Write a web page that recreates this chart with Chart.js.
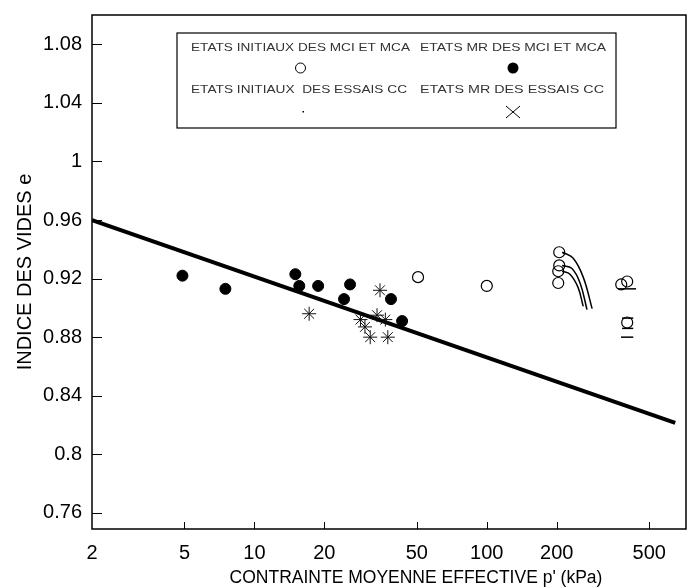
<!DOCTYPE html>
<html>
<head>
<meta charset="utf-8">
<script src="https://cdn.jsdelivr.net/npm/chart.js@4.4.1/dist/chart.umd.min.js"></script>
<style>
html, body { margin: 0; padding: 0; background: #fff; }
#wrap { width: 689px; height: 588px; }
</style>
</head>
<body>
<div id="wrap"><canvas id="chart" width="689" height="588"></canvas></div>
<script>
// etats MR des MCI et MCA (points pleins)
const mrMciX = [4.9, 7.5, 15.0, 15.6, 18.8, 24.3, 25.8, 38.7, 43.2];
const mrMciY = [0.922, 0.913, 0.923, 0.915, 0.915, 0.906, 0.916, 0.906, 0.891];

// etats initiaux des MCI et MCA (cercles vides)
const initMciX = [50.6, 100, 205, 205, 203, 203, 379, 402, 402];
const initMciY = [0.921, 0.915, 0.938, 0.929, 0.925, 0.917, 0.916, 0.918, 0.890];

// etats MR des essais CC (croix)
const mrCcX = [17.2, 34.7, 33.7, 29.9, 28.6, 36.6, 31.5, 37.5];
const mrCcY = [0.896, 0.912, 0.895, 0.887, 0.892, 0.892, 0.880, 0.880];

// droite d'etat critique
const lineX = [2, 647];
const lineY = [0.96, 0.8215];

// chemins partant des etats a 200 kPa
const path1X = [211, 235, 260, 284];
const path1Y = [0.938, 0.934, 0.921, 0.8995];
const path2X = [211, 232, 252, 270];
const path2Y = [0.929, 0.927, 0.917, 0.8988];
const path3X = [211, 228, 247, 260];
const path3Y = [0.925, 0.923, 0.914, 0.901];

// petits traits horizontaux vers 400 kPa
const barFrom = [367, 382, 382, 378];
const barTo = [439, 427, 427, 427];
const barY = [0.913, 0.893, 0.886, 0.880];

const xTicks = [2, 5, 10, 20, 50, 100, 200, 500];
const yTicks = [0.76, 0.8, 0.84, 0.88, 0.92, 0.96, 1, 1.04, 1.08];

const legendTexts = [
    'ETATS INITIAUX DES MCI ET MCA', 'ETATS MR DES MCI ET MCA',
    'ETATS INITIAUX  DES ESSAIS CC', 'ETATS MR DES ESSAIS CC'
];
const xTitle = "CONTRAINTE MOYENNE EFFECTIVE p' (kPa)";
const yTitle = 'INDICE DES VIDES e';

const FONT = "'Liberation Sans', Arial, sans-serif";
const toPts = (xs, ys) => xs.map((x, i) => ({ x: x, y: ys[i] }));

const pathSet = (xs, ys) => ({
    data: toPts(xs, ys), showLine: true, pointRadius: 0,
    borderColor: '#000', borderWidth: 1.5, tension: 0.4
});

const datasets = [
    {
        data: toPts(mrMciX, mrMciY), pointRadius: 5.5, pointStyle: 'circle',
        backgroundColor: '#000', borderColor: '#000'
    },
    {
        data: toPts(initMciX, initMciY), pointRadius: 5.5, pointStyle: 'circle',
        backgroundColor: 'rgba(255,255,255,0)', borderColor: '#000', borderWidth: 1.2
    },
    {
        data: toPts(mrCcX, mrCcY), pointRadius: 7, pointStyle: 'star',
        borderColor: '#111', borderWidth: 1
    },
    pathSet(path1X, path1Y),
    pathSet(path2X, path2Y),
    pathSet(path3X, path3Y)
];
barY.forEach((y, i) => {
    datasets.push({
        data: [{ x: barFrom[i], y: y }, { x: barTo[i], y: y }],
        showLine: true, pointRadius: 0, borderColor: '#000', borderWidth: 1.5
    });
});
datasets.push({
    data: toPts(lineX, lineY), showLine: true, pointRadius: 0,
    borderColor: '#000', borderWidth: 4
});

// cadre + graduations vers l'interieur
const framePlugin = {
    id: 'frame',
    afterDraw(chart) {
        const ctx = chart.ctx;
        const a = chart.chartArea;
        const xs = chart.scales.x, ys = chart.scales.y;
        ctx.save();
        ctx.strokeStyle = '#000';
        ctx.lineWidth = 1.5;
        ctx.strokeRect(a.left, a.top, a.right - a.left, a.bottom - a.top);
        ctx.lineWidth = 1;
        ctx.beginPath();
        yTicks.forEach(v => {
            const py = Math.round(ys.getPixelForValue(v)) + 0.5;
            ctx.moveTo(a.left, py);
            ctx.lineTo(a.left + 10, py);
        });
        xTicks.slice(1).forEach(v => {
            const px = Math.round(xs.getPixelForValue(v)) + 0.5;
            ctx.moveTo(px, a.bottom);
            ctx.lineTo(px, a.bottom - 7);
        });
        ctx.stroke();

        ctx.fillStyle = '#000';
        ctx.font = '17.5px ' + FONT;
        ctx.textAlign = 'center';
        ctx.textBaseline = 'middle';
        ctx.fillText(xTitle, 416, 578);
        ctx.restore();
    }
};

// legende encadree, texte au-dessus du symbole
const legendPlugin = {
    id: 'boxLegend',
    afterDraw(chart) {
        const ctx = chart.ctx;
        const box = { l: 177, t: 33, r: 616, b: 128 };
        const cols = [191, 420];
        const widths = [219, 186, 216, 184];
        const rowsText = [48, 90];
        const rowsMark = [68, 112];
        ctx.save();
        ctx.strokeStyle = '#000';
        ctx.lineWidth = 1.2;
        ctx.strokeRect(box.l, box.t, box.r - box.l, box.b - box.t);
        ctx.fillStyle = '#333';
        ctx.font = '10px ' + FONT;
        ctx.textBaseline = 'middle';
        ctx.textAlign = 'left';
        legendTexts.forEach((t, i) => {
            const col = i % 2, row = Math.floor(i / 2);
            const w = ctx.measureText(t).width;
            ctx.save();
            ctx.translate(cols[col], rowsText[row]);
            ctx.scale(widths[i] / w, 1.1);
            ctx.fillText(t, 0, 0);
            ctx.restore();
        });
        const cx = [cols[0] + widths[0] / 2, cols[1] + widths[1] / 2];
        ctx.strokeStyle = '#000';
        ctx.lineWidth = 1;
        ctx.beginPath();
        ctx.arc(cx[0], rowsMark[0], 5, 0, Math.PI * 2);
        ctx.stroke();
        ctx.fillStyle = '#000';
        ctx.beginPath();
        ctx.arc(cx[1], rowsMark[0], 5.5, 0, Math.PI * 2);
        ctx.fill();
        ctx.fillRect(cx[0] + 2, rowsMark[1] - 1, 1.5, 1.5);
        ctx.beginPath();
        ctx.moveTo(cx[1] - 7, rowsMark[1] - 6);
        ctx.lineTo(cx[1] + 7, rowsMark[1] + 6);
        ctx.moveTo(cx[1] + 7, rowsMark[1] - 6);
        ctx.lineTo(cx[1] - 7, rowsMark[1] + 6);
        ctx.stroke();
        ctx.restore();
    }
};

new Chart(document.getElementById('chart'), {
    type: 'scatter',
    data: { datasets: datasets },
    plugins: [framePlugin, legendPlugin],
    options: {
        responsive: false,
        animation: false,
        events: [],
        layout: { autoPadding: false, padding: { top: 15, right: 3, left: 0, bottom: 0 } },
        plugins: { legend: { display: false }, tooltip: { enabled: false } },
        scales: {
            x: {
                type: 'logarithmic', min: 2, max: 720,
                afterBuildTicks: s => { s.ticks = xTicks.map(v => ({ value: v })); },
                afterFit: s => {
                    s.height = 59;
                    s.paddingLeft = 0; s.paddingRight = 0;
                },
                grid: { display: false, drawTicks: false },
                border: { display: false },
                ticks: {
                    padding: 12, color: '#000', autoSkip: false, maxRotation: 0,
                    font: { family: FONT, size: 20 },
                    callback: v => String(v)
                }
            },
            y: {
                min: 0.749, max: 1.1,
                afterBuildTicks: s => { s.ticks = yTicks.map(v => ({ value: v })); },
                afterFit: s => {
                    s.width = 92;
                    s.paddingTop = 0; s.paddingBottom = 0;
                },
                grid: { display: false, drawTicks: false },
                border: { display: false },
                ticks: {
                    padding: 10, color: '#000',
                    font: { family: FONT, size: 20 },
                    callback: v => String(v)
                },
                title: {
                    display: true, text: yTitle, color: '#000',
                    font: { family: FONT, size: 20 },
                    padding: { top: 13, bottom: 0 }
                }
            }
        }
    }
});
</script>
</body>
</html>
